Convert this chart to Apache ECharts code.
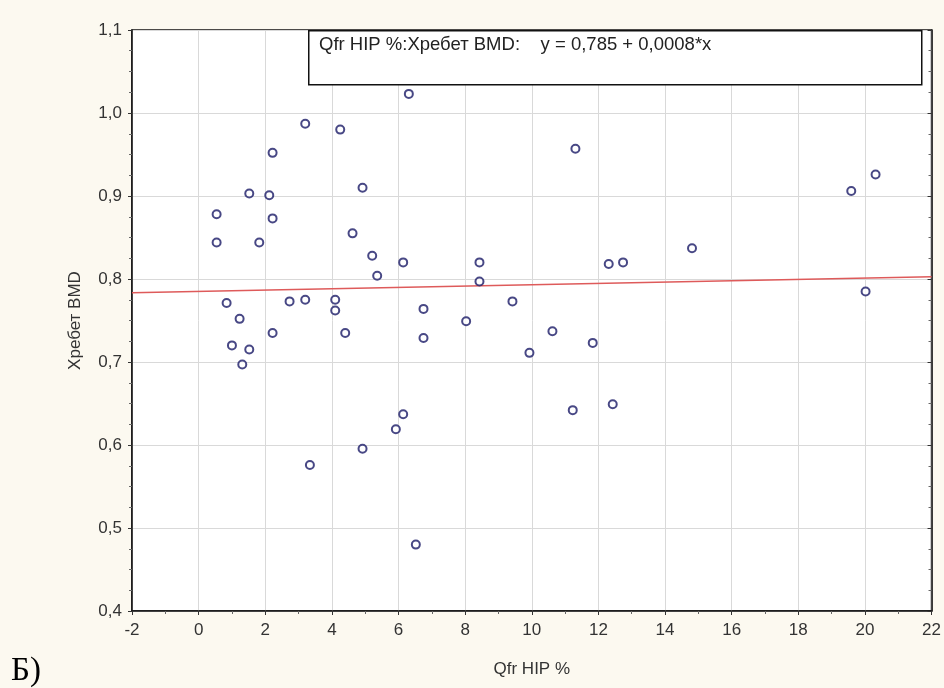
<!DOCTYPE html>
<html><head><meta charset="utf-8">
<script src="https://cdn.jsdelivr.net/npm/echarts@6/dist/echarts.min.js"></script>
<style>html,body{margin:0;padding:0;background:#fcf9f0;}#c{width:944px;height:688px;}</style>
</head><body><div id="c"></div>
<script>
const xValues = [3.2,4.25,2.22,1.52,2.12,4.92,0.54,2.22,4.62,6.31,11.31,19.59,20.32,0.54,1.82,5.21,5.36,0.84,2.73,3.2,4.1,4.1,1.23,2.22,4.4,1.0,1.52,1.31,6.14,8.43,8.43,12.31,12.74,6.75,6.75,8.03,9.42,10.62,9.93,11.83,6.14,5.92,11.23,12.43,14.81,20.02,3.34,4.92,6.52];
const yValues = [0.987,0.980,0.952,0.903,0.901,0.910,0.878,0.873,0.855,1.023,0.957,0.906,0.926,0.844,0.844,0.828,0.804,0.771,0.773,0.775,0.775,0.762,0.752,0.735,0.735,0.720,0.715,0.697,0.820,0.820,0.797,0.818,0.820,0.764,0.729,0.749,0.773,0.737,0.711,0.723,0.637,0.619,0.642,0.649,0.837,0.785,0.576,0.5955,0.480];
const fitIntercept = 0.785;
const fitSlope = 0.0008;
const xTicks = {min: -2, max: 22, interval: 2};
const yTicks = {min: 0.4, max: 1.1, interval: 0.1};
const legendText = 'Qfr HIP %:Хребет BMD:    y = 0,785 + 0,0008*x';
const xName = 'Qfr HIP %';
const yName = 'Хребет BMD';
const panelLabel = 'Б)';

const pts = xValues.map((x, i) => [x, yValues[i]]);
const fitLine = [xTicks.min, xTicks.max].map(x => [x, fitIntercept + fitSlope * x]);
const fmt = v => (Math.round(v * 10) / 10).toFixed(1).replace('.', ',');
const font = 'Liberation Sans, Arial, sans-serif';

const chart = echarts.init(document.getElementById('c'));
chart.setOption({
  backgroundColor: '#fcf9f0',
  animation: false,
  grid: {left: 132, right: 10, top: 30, bottom: 77, backgroundColor: '#ffffff', show: true, borderColor: '#111', borderWidth: 1.5},
  xAxis: [{
    type: 'value', min: xTicks.min, max: xTicks.max, interval: xTicks.interval,
    name: xName, nameLocation: 'middle', nameGap: 50,
    nameTextStyle: {fontFamily: font, fontSize: 17, color: '#333'},
    axisLine: {show: true, onZero: false, lineStyle: {color: '#111', width: 1.5}},
    axisTick: {show: true, length: 4, inside: false, lineStyle: {color: '#333'}},
    minorTick: {show: true, splitNumber: 2, length: 3, lineStyle: {color: '#666'}},
    axisLabel: {fontFamily: font, fontSize: 17, color: '#333', margin: 11},
    splitLine: {show: true, lineStyle: {color: '#d9d9d9', width: 1}}
  }],
  yAxis: [{
    type: 'value', min: yTicks.min, max: yTicks.max, interval: yTicks.interval,
    name: yName, nameLocation: 'middle', nameGap: 48, nameRotate: 90,
    nameTextStyle: {fontFamily: font, fontSize: 17, color: '#333'},
    axisLine: {show: true, onZero: false, lineStyle: {color: '#111', width: 1.5}},
    axisTick: {show: true, length: 4, inside: false, lineStyle: {color: '#333'}},
    minorTick: {show: true, splitNumber: 4, length: 3, lineStyle: {color: '#666'}},
    axisLabel: {fontFamily: font, fontSize: 17, color: '#333', margin: 10, formatter: fmt},
    splitLine: {show: true, lineStyle: {color: '#d9d9d9', width: 1}}
  }, {
    type: 'value', position: 'right', min: yTicks.min, max: yTicks.max, interval: yTicks.interval,
    axisLine: {show: true, onZero: false, lineStyle: {color: '#111', width: 1.5}},
    axisTick: {show: true, inside: true, length: 4, lineStyle: {color: '#333'}},
    minorTick: {show: true, splitNumber: 4, length: 3, lineStyle: {color: '#666'}},
    axisLabel: {show: false}, splitLine: {show: false}
  }],
  series: [{
    type: 'line', data: fitLine, showSymbol: false, symbol: 'none',
    lineStyle: {color: '#de5a5a', width: 1.5}, z: 2, silent: true
  }, {
    type: 'scatter', data: pts, symbol: 'circle', symbolSize: 8,
    itemStyle: {color: '#ffffff', borderColor: '#1a1a66', borderWidth: 2}, z: 3
  }],
  graphic: [{
    type: 'rect', left: 308, top: 30, shape: {width: 613, height: 54},
    style: {fill: '#ffffff', stroke: '#111', lineWidth: 1.5}, z: 10
  }, {
    type: 'text', left: 319, top: 35, z: 11,
    style: {text: legendText, font: '18.5px ' + font, fill: '#222'}
  }, {
    type: 'text', left: 11, top: 655, z: 11,
    style: {text: panelLabel, font: '33px "Liberation Serif", "Times New Roman", serif', fill: '#000'}
  }]
});
</script></body></html>
